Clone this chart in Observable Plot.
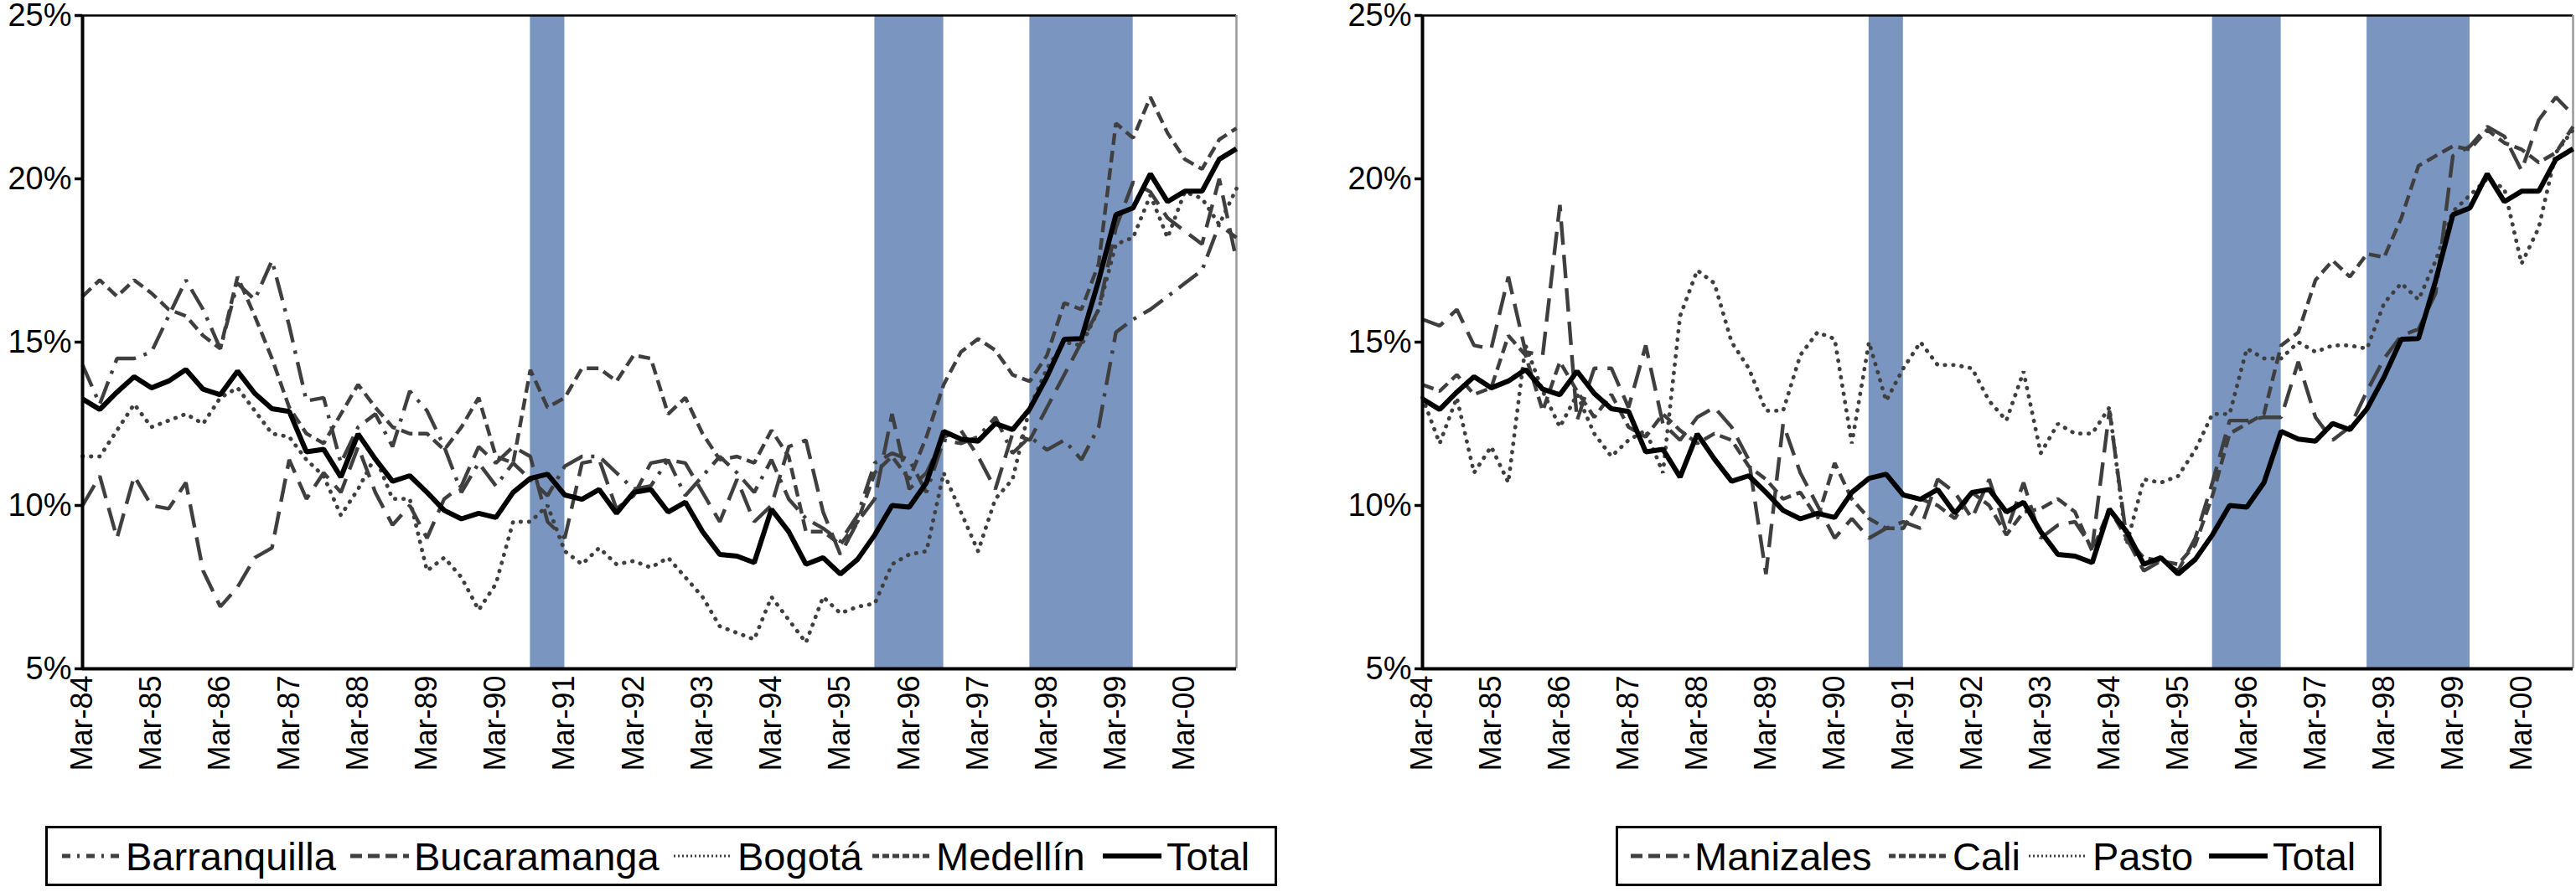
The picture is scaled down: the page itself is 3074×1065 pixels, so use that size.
<!DOCTYPE html>
<html><head><meta charset="utf-8">
<script src="https://cdn.jsdelivr.net/npm/d3@7"></script>
<script src="https://cdn.jsdelivr.net/npm/@observablehq/plot@0.6"></script>
<style>
html,body{margin:0;padding:0;background:#fff;}
body{width:3074px;height:1065px;position:relative;overflow:hidden;font-family:"Liberation Sans",Arial,sans-serif;}
.panel{position:absolute;top:0;}
.legend{position:absolute;top:986px;height:72px;border:3px solid #000;box-sizing:border-box;background:#fff;}
.item{position:absolute;top:0;height:66px;display:flex;align-items:center;font-size:47px;color:#000;white-space:nowrap;}
.item svg{margin-right:6px;}
</style></head><body>
<div id="left" class="panel" style="left:0"></div>
<div id="right" class="panel" style="left:1530px"></div>
<div id="legL" class="legend" style="left:54px;width:1470px"></div>
<div id="legR" class="legend" style="left:1928px;width:914px"></div>
<script>
// ---- categories (quarters Mar-84 .. Dec-00) ----
const years = ["84","85","86","87","88","89","90","91","92","93","94","95","96","97","98","99","00"];
const months = ["Mar","Jun","Sep","Dec"];
const quarters = years.flatMap(y => months.map(m => m + "-" + y));
const tickIdx = d3.range(0, 68, 4);
const yTicks = [5, 10, 15, 20, 25];
// recession bands (start, end quarter index)
const bandStart = [26, 46, 55];
const bandEnd = [28, 50, 61];

// ---- series (unemployment rate, %) ----
const total = [13.26,12.94,13.47,13.94,13.6,13.81,14.16,13.56,13.39,14.11,13.43,12.96,12.88,11.64,11.72,10.87,12.19,11.42,10.74,10.91,10.4,9.85,9.59,9.76,9.63,10.4,10.83,10.96,10.32,10.19,10.49,9.76,10.4,10.49,9.8,10.1,9.2,8.5,8.45,8.25,9.88,9.2,8.2,8.4,7.9,8.35,9.1,10.0,9.95,10.7,12.27,12.03,11.97,12.51,12.32,12.96,13.94,15.09,15.11,16.89,18.9,19.11,20.15,19.3,19.62,19.62,20.6,20.92];
const barranquilla = [14.3,13.1,14.5,14.5,14.7,15.8,16.9,16.0,14.8,16.8,16.3,17.5,15.5,13.2,13.3,11.3,12.4,12.8,11.8,13.5,12.9,11.8,10.4,11.3,10.6,11.3,10.8,10.3,11.2,11.5,11.5,11.0,10.5,10.6,11.4,10.3,10.9,11.5,11.0,10.4,11.4,10.2,9.6,9.3,8.9,9.7,11.3,11.6,11.4,10.4,12.0,11.9,12.1,12.7,11.6,12.1,11.7,12.0,11.4,12.4,15.3,15.7,16.0,16.4,16.8,17.2,18.6,18.2];
const bucaramanga = [10.0,10.9,9.0,10.9,10.0,9.9,10.7,8.0,6.9,7.5,8.4,8.7,11.4,10.2,11.0,10.4,11.8,10.4,9.4,10.0,9.0,10.2,10.6,11.8,11.3,11.8,11.5,9.5,9.0,11.3,11.4,9.9,10.3,11.3,11.4,11.3,10.4,9.5,10.8,9.5,10.0,11.8,12.0,9.8,8.5,9.5,10.2,12.8,10.5,11.0,12.1,12.3,11.5,10.5,12.2,12.0,13.0,14.0,15.0,16.0,18.5,19.9,19.6,18.8,18.4,18.0,20.0,17.5];
const bogota = [11.5,11.5,12.3,13.1,12.4,12.6,12.8,12.5,13.3,13.6,12.9,12.2,12.1,11.4,10.9,9.7,10.5,11.5,10.2,10.2,8.0,8.4,7.8,6.8,7.6,9.5,9.5,10.0,8.6,8.2,8.7,8.2,8.3,8.1,8.4,7.8,7.2,6.3,6.1,5.9,7.2,6.5,5.8,7.2,6.7,6.9,7.0,8.2,8.5,8.6,11.0,9.8,8.6,10.2,10.8,13.0,14.2,15.0,14.9,16.0,18.0,18.2,19.5,18.2,19.6,19.4,18.6,19.7];
const medellin = [16.4,16.9,16.4,16.9,16.5,16.0,15.8,15.2,14.8,17.0,15.8,14.5,13.0,12.2,11.9,12.8,13.7,13.0,12.4,12.2,12.2,11.7,12.4,13.3,11.5,11.3,14.15,13.0,13.3,14.2,14.2,13.8,14.6,14.5,12.8,13.3,12.2,11.4,11.5,11.3,12.3,11.5,9.2,9.2,8.8,9.5,11.0,11.5,10.8,12.1,13.7,14.7,15.1,14.75,14.0,13.8,14.6,16.2,16.0,17.4,21.7,21.25,22.5,21.4,20.6,20.3,21.2,21.55];
const manizales = [15.7,15.5,16.0,14.9,14.8,17.0,14.7,14.6,19.2,12.6,14.2,14.2,13.0,14.9,12.5,12.0,12.7,13.0,12.4,11.4,7.9,12.5,11.0,10.0,9.0,9.6,9.0,9.3,9.5,9.3,10.8,10.4,9.6,10.8,9.2,10.7,9.0,9.4,9.5,8.7,12.9,9.0,8.0,8.3,8.0,9.0,10.7,12.6,12.6,12.7,12.7,14.4,12.7,12.0,12.4,13.5,14.5,15.2,15.4,16.5,20.7,21.0,21.6,21.3,20.25,21.8,22.5,21.96];
const cali = [13.7,13.5,14.0,13.4,13.6,15.2,14.6,12.9,14.4,13.5,12.7,13.4,12.4,12.1,12.8,12.3,11.9,12.2,12.0,11.2,10.8,10.2,10.4,9.6,11.3,10.2,9.6,9.3,9.3,10.2,10.0,9.6,10.4,10.0,9.1,9.8,9.9,10.2,9.8,8.6,9.9,9.0,8.4,8.3,8.2,8.8,10.3,12.2,12.5,12.8,14.9,15.3,16.9,17.5,17.0,17.7,17.6,18.8,20.4,20.7,21.0,20.9,21.5,21.1,20.9,20.5,20.8,21.6];
const pasto = [13.3,11.9,13.3,11.0,11.8,10.7,14.9,13.5,12.4,13.4,12.2,11.5,12.0,12.3,11.0,15.8,17.2,16.8,15.0,14.2,12.9,12.9,14.6,15.3,15.1,11.9,15.0,13.2,14.2,15.0,14.3,14.3,14.2,13.2,12.6,14.1,11.6,12.5,12.2,12.2,13.0,8.8,10.8,10.7,10.9,11.7,12.8,12.8,14.8,14.5,14.5,15.0,14.7,14.9,14.9,14.8,16.2,16.8,16.3,17.5,19.0,19.5,20.0,19.7,17.4,18.5,20.8,21.5];

// ---- styles ----
const GREY = "#3f3f3f";
const BAND = "#7A96C0";
const styles = {
  "Barranquilla": {dash: "28 10 4 10", width: 4.4},
  "Bucaramanga": {dash: "28 12", width: 4.4},
  "Bogotá": {dash: "0.5 9.5", width: 4.8, cap: "round"},
  "Medellín": {dash: "14 7", width: 4.4},
  "Manizales": {dash: "28 12", width: 4.4},
  "Cali": {dash: "14 7", width: 4.4},
  "Pasto": {dash: "0.5 9.5", width: 4.8, cap: "round"},
  "Total": {dash: null, width: 6}
};
const leftSeries = [["Barranquilla", barranquilla], ["Bucaramanga", bucaramanga], ["Bogotá", bogota], ["Medellín", medellin], ["Total", total]];
const rightSeries = [["Manizales", manizales], ["Cali", cali], ["Pasto", pasto], ["Total", total]];

const bands = bandStart.map((s, k) => ({x1: s, x2: bandEnd[k]}));

function panel(series, opts) {
  const lines = series.map(([name, vals]) => {
    const st = styles[name];
    const data = vals.map((v, i) => ({i, v}));
    return Plot.line(data, {x: "i", y: "v", stroke: name === "Total" ? "#000" : GREY,
      strokeWidth: st.width, strokeDasharray: st.dash, strokeLinecap: st.cap || "butt", strokeLinejoin: "miter"});
  });
  return Plot.plot({
    width: opts.width, height: 970,
    marginLeft: opts.ml, marginRight: opts.mr, marginTop: 18, marginBottom: 172,
    style: {fontFamily: "'Liberation Sans', Arial, sans-serif", background: "#fff", overflow: "visible"},
    x: {type: "linear", domain: [0, 67]},
    y: {domain: [5, 25]},
    marks: [
      Plot.rectY(bands, {x1: "x1", x2: "x2", y1: 5, y2: 25, fill: BAND}),
      Plot.ruleY([25], {stroke: "#000", strokeWidth: 2.5}),
      Plot.ruleX([67], {stroke: "#999", strokeWidth: 2.5}),
      ...lines,
      Plot.axisY({ticks: yTicks, tickFormat: d => d + "%", tickSize: 9, tickPadding: 4, fontSize: 38, strokeWidth: 3.5, label: null}),
      Plot.axisX({ticks: tickIdx, tickFormat: i => quarters[i], tickRotate: -90, tickSize: 0, tickPadding: 8, fontSize: 36, label: null}),
      Plot.ruleX([0], {stroke: "#000", strokeWidth: 4}),
      Plot.ruleY([5], {stroke: "#000", strokeWidth: 4})
    ]
  });
}

document.getElementById("left").appendChild(panel(leftSeries, {width: 1530, ml: 98, mr: 55}));
document.getElementById("right").appendChild(panel(rightSeries, {width: 1544, ml: 167, mr: 4}));

function sample(name) {
  const st = styles[name];
  const w = 70;
  const svg = d3.create("svg").attr("width", w).attr("height", 20);
  svg.append("line").attr("x1", 0).attr("x2", w).attr("y1", 10).attr("y2", 10)
    .attr("stroke", name === "Total" ? "#000" : GREY)
    .attr("stroke-width", name === "Total" ? 6 : (st.cap ? 3 : 5))
    .attr("stroke-dasharray", name === "Total" ? null : (st.cap ? "2 3" : (name === "Barranquilla" ? "10 8 3 8" : (st.dash === "28 12" ? "14 7" : "8 4"))));
  return svg.node();
}
function legend(el, series, lefts) {
  series.forEach(([name], k) => {
    const d = document.createElement("div");
    d.className = "item";
    d.style.left = lefts[k] + "px";
    d.appendChild(sample(name));
    d.appendChild(document.createTextNode(name));
    el.appendChild(d);
  });
}
legend(document.getElementById("legL"), leftSeries, [17, 361, 747, 984, 1259]);
legend(document.getElementById("legR"), rightSeries, [15, 323, 490, 705]);
</script>
</body></html>
